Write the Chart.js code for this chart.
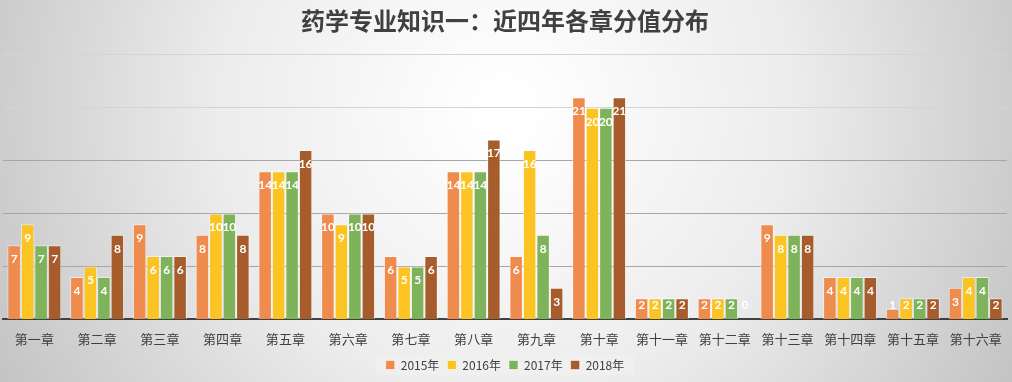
<!DOCTYPE html>
<html>
<head>
<meta charset="utf-8">
<script src="https://cdn.jsdelivr.net/npm/chart.js@4.4.1/dist/chart.umd.min.js"></script>
<style>
    html, body { margin: 0; padding: 0; }
    #wrap { width: 1012px; height: 382px; position: relative; }
</style>
</head>
<body>
<div id="wrap"><canvas id="grafico"></canvas></div>
<script>
// dados do gráfico
const capitulos = ["第一章", "第二章", "第三章", "第四章", "第五章", "第六章", "第七章", "第八章",
    "第九章", "第十章", "第十一章", "第十二章", "第十三章", "第十四章", "第十五章", "第十六章"];
const anos = ["2015年", "2016年", "2017年", "2018年"];
const valores2015 = [7, 4, 9, 8, 14, 10, 6, 14, 6, 21, 2, 2, 9, 4, 1, 3];
const valores2016 = [9, 5, 6, 10, 14, 9, 5, 14, 16, 20, 2, 2, 8, 4, 2, 4];
const valores2017 = [7, 4, 6, 10, 14, 10, 5, 14, 8, 20, 2, 2, 8, 4, 2, 4];
const valores2018 = [7, 8, 6, 8, 16, 10, 6, 17, 3, 21, 2, 0, 8, 4, 2, 2];
const cores = ["#EE8B4D", "#FCC422", "#7EB35B", "#A65C2B"];

const fundo = {
    id: "fundo",
    beforeDraw(chart) {
        const ctx = chart.ctx;
        const w = chart.width, h = chart.height;
        ctx.save();
        const g = ctx.createRadialGradient(w / 2, 110, 20, w / 2, 110, 620);
        g.addColorStop(0, "#ffffff");
        g.addColorStop(0.45, "#ececec");
        g.addColorStop(1, "#bdbdbd");
        ctx.fillStyle = g;
        ctx.fillRect(0, 0, w, h);
        // fundo claro atrás da legenda
        const caixas = chart.legend && chart.legend.legendHitBoxes;
        if (caixas && caixas.length) {
            const x0 = Math.min(...caixas.map((b) => b.left)) - 10;
            const x1 = Math.max(...caixas.map((b) => b.left + b.width)) + 10;
            const y0 = Math.min(...caixas.map((b) => b.top)) - 4;
            const y1 = Math.max(...caixas.map((b) => b.top + b.height)) + 4;
            ctx.fillStyle = "rgba(240,240,240,0.85)";
            ctx.fillRect(x0, y0, x1 - x0, y1 - y0);
        }
        ctx.restore();
    },
};

// rótulos brancos dentro das barras
const rotulos = {
    id: "rotulos",
    afterDatasetsDraw(chart) {
        const ctx = chart.ctx;
        const base = chart.scales.y.getPixelForValue(0);
        ctx.save();
        ctx.fillStyle = "#ffffff";
        ctx.font = "bold 12px Lato";
        ctx.textAlign = "center";
        ctx.textBaseline = "middle";
        chart.data.datasets.forEach((ds, i) => {
            chart.getDatasetMeta(i).data.forEach((bar, j) => {
                const y = Math.min(bar.y + 14, base - 14);
                ctx.fillText(String(ds.data[j]), bar.x, y);
            });
        });
        ctx.restore();
    },
};

const dados = {
    labels: capitulos,
    datasets: [valores2015, valores2016, valores2017, valores2018].map((v, i) => ({
        label: anos[i],
        data: v,
        backgroundColor: cores[i],
        borderColor: "rgba(255,255,255,0.55)",
        borderWidth: 1,
        barPercentage: 1,
        categoryPercentage: 0.86,
    })),
};

new Chart(document.getElementById("grafico"), {
    type: "bar",
    data: dados,
    options: {
        responsive: true,
        maintainAspectRatio: false,
        animation: false,
        layout: { padding: { left: 3, right: 5, top: 0, bottom: 1 } },
        scales: {
            x: {
                grid: { display: false },
                border: { color: "#404040", width: 2 },
                ticks: {
                    color: "#404040",
                    font: { size: 13, family: "Noto Sans CJK SC" },
                    padding: 4,
                    maxRotation: 0,
                },
            },
            y: {
                min: 0,
                max: 25,
                display: true,
                ticks: { display: false, stepSize: 5 },
                border: { display: false },
                grid: {
                    drawTicks: false,
                    color: (c) => (c.tick.value === 0 ? "rgba(0,0,0,0)" : c.tick.value >= 20 ? "#d4d4d4" : "#a6a6a6"),
                },
            },
        },
        plugins: {
            title: {
                display: true,
                text: "药学专业知识一：近四年各章分值分布",
                color: "#404040",
                font: { size: 24, family: "Noto Sans CJK SC", weight: "bold" },
                padding: { top: 6, bottom: 20 },
            },
            legend: {
                position: "bottom",
                labels: {
                    boxWidth: 9,
                    boxHeight: 9,
                    color: "#404040",
                    font: { size: 12, family: "Noto Sans CJK SC" },
                    padding: 8,
                },
            },
            tooltip: { enabled: false },
        },
    },
    plugins: [fundo, rotulos],
});
</script>
</body>
</html>
